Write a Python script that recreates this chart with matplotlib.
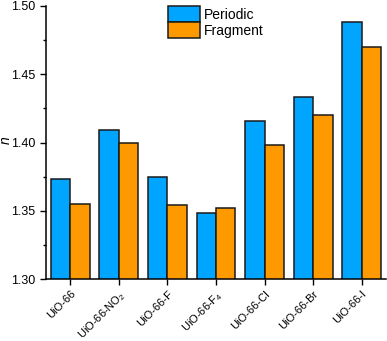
import numpy as np
import matplotlib.pyplot as plt

plt.rcParams['font.family'] = ['Liberation Sans', 'DejaVu Sans']
plt.rcParams['mathtext.fontset'] = 'custom'
plt.rcParams['mathtext.rm'] = 'Liberation Sans'
plt.rcParams['mathtext.it'] = 'Liberation Sans:italic'

# data
labels = ['UiO-66', 'UiO-66-NO$\\mathregular{_2}$', 'UiO-66-F', 'UiO-66-F$\\mathregular{_4}$',
          'UiO-66-Cl', 'UiO-66-Br', 'UiO-66-I']
periodic = [1.373, 1.409, 1.375, 1.348, 1.416, 1.433, 1.488]
fragment = [1.355, 1.400, 1.354, 1.352, 1.398, 1.420, 1.470]

x = np.arange(len(labels))
w = 0.4

fig = plt.figure(figsize=(3.87, 3.41), dpi=100)
ax = fig.add_axes([46/387, 62/341, 340/387, 273/341])
ax.bar(x - w/2, periodic, w, color='#00A5FF', edgecolor='#1a1a1a', linewidth=1.1, label='Periodic')
ax.bar(x + w/2, fragment, w, color='#FF9900', edgecolor='#1a1a1a', linewidth=1.1, label='Fragment')

ax.set_ylim(1.30, 1.50)
ax.set_xlim(-0.5, 6.5)
ax.set_yticks([1.30, 1.35, 1.40, 1.45, 1.50])
ax.set_yticks([1.325, 1.375, 1.425, 1.475], minor=True)
ax.set_xticks(x)
ax.set_xticklabels(labels, rotation=45, ha='right', rotation_mode='anchor', fontsize=8)
ax.tick_params(axis='y', labelsize=9, length=4, width=1, direction='out')
ax.tick_params(axis='y', which='minor', length=2.5, width=1)
ax.tick_params(axis='x', length=4, width=1, pad=3)
ax.set_ylabel('n', fontsize=10, style='italic')
ax.yaxis.set_label_coords(-0.097, 0.51)
for s in ['top', 'right']:
    ax.spines[s].set_visible(False)
for s in ['left', 'bottom']:
    ax.spines[s].set_linewidth(1.1)

ax.legend(loc='upper left', bbox_to_anchor=(0.338, 1.025), frameon=False, fontsize=10,
          handlelength=2.3, handleheight=1.4, labelspacing=0, handletextpad=0.3,
          borderpad=0)

plt.savefig('out.png', dpi=100)
